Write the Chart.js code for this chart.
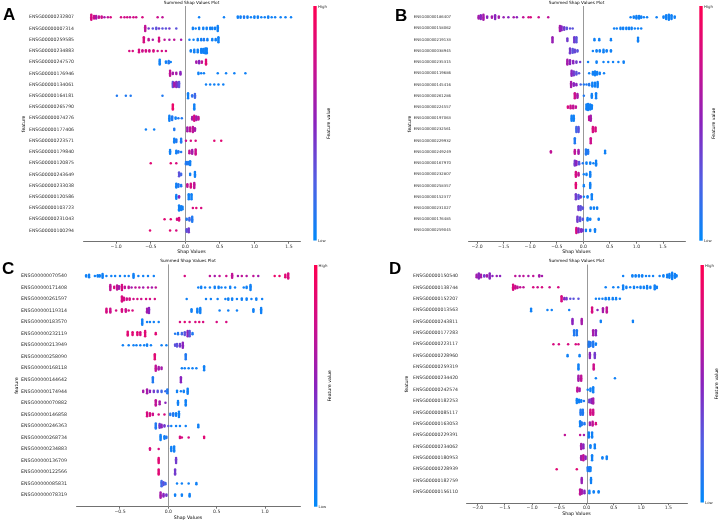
<!DOCTYPE html>
<html><head><meta charset="utf-8">
<script src="https://cdn.jsdelivr.net/npm/chart.js@4.4.1/dist/chart.umd.min.js"></script>
<style>
html,body{margin:0;padding:0;background:#fff;}
#wrap{position:relative;width:720px;height:522px;overflow:hidden;background:#fff;}
canvas{position:absolute;}
.lt{position:absolute;font:bold 17px "Liberation Sans",Arial,sans-serif;line-height:17px;color:#000;}
</style></head><body>
<div id="wrap">
<canvas id="cA" width="360" height="261" style="left:0;top:0"></canvas>
<canvas id="cB" width="360" height="261" style="left:360px;top:0"></canvas>
<canvas id="cC" width="360" height="264" style="left:0;top:258px"></canvas>
<canvas id="cD" width="360" height="264" style="left:360px;top:258px"></canvas>
<div class="lt" style="left:3px;top:6px">A</div>
<div class="lt" style="left:395px;top:7px">B</div>
<div class="lt" style="left:2px;top:260px">C</div>
<div class="lt" style="left:389px;top:260px">D</div>
</div>
<script>
const titleText = "Summed Shap Values Plot";
const xTitle = "Shap Values";
const yTitle = "feature";
const cbTitle = "Feature value";

// ---- Panel A ----
const genesA = ["ENSG00000232807","ENSG00000007314","ENSG00000259585","ENSG00000234883","ENSG00000247570","ENSG00000176946","ENSG00000134061","ENSG00000164181","ENSG00000265790","ENSG00000074276","ENSG00000177406","ENSG00000223571","ENSG00000179840","ENSG00000120875","ENSG00000243649","ENSG00000233038","ENSG00000120586","ENSG00000103723","ENSG00000231043","ENSG00000100294"];
const xTicksA = [-1.0,-0.5,0.0,0.5,1.0,1.5];
// each point: [shap value, feature value (0 low .. 1 high), stacked count]
const shapA = [
[[-1.36,.8,5],[-1.32,.75,3],[-1.29,.6,3],[-1.25,.7,2],[-1.21,.75,2],[-1.17,.6,1],[-1.12,.7,1],[-1.08,.8,1],[-0.93,.8,1],[-0.88,.75,1],[-0.84,.8,1],[-0.80,.7,1],[-0.75,.8,1],[-0.71,.75,1],[-0.62,.8,1],[-0.40,.75,1],[-0.33,.7,1],[0.20,.05,1],[0.56,.05,1],[0.76,.05,2],[0.80,.05,2],[0.85,.1,2],[0.90,.05,2],[0.95,.05,1],[1.00,.05,2],[1.05,.05,2],[1.10,.05,1],[1.15,.05,1],[1.20,.05,2],[1.25,.05,1],[1.30,.05,1],[1.38,.05,1],[1.45,.05,1],[1.53,.05,1]],
[[-0.58,.7,5],[-0.53,.4,1],[-0.47,.3,1],[-0.42,.3,2],[-0.38,.4,1],[-0.33,.3,1],[-0.28,.3,1],[-0.23,.4,1],[-0.13,.3,1],[0.11,.05,2],[0.15,.05,1],[0.20,.05,2],[0.26,.05,2],[0.31,.05,2],[0.36,.05,2],[0.39,.05,2],[0.43,.05,2],[0.47,.05,5]],
[[-0.60,.8,5],[-0.53,.7,2],[-0.47,.6,1],[-0.38,.8,4],[-0.30,.7,1],[-0.23,.6,1],[-0.16,.7,1],[-0.06,.6,1],[0.06,.05,1],[0.12,.05,1],[0.18,.05,2],[0.23,.05,2],[0.27,.1,2],[0.32,.05,2],[0.39,.05,2],[0.44,.05,2],[0.48,.05,5]],
[[-0.81,.8,1],[-0.76,.8,1],[-0.67,.8,3],[-0.62,.75,2],[-0.57,.8,2],[-0.52,.75,2],[-0.46,.8,2],[-0.40,.75,1],[-0.34,.8,1],[-0.28,.75,1],[0.08,.05,2],[0.13,.05,3],[0.18,.05,3],[0.23,.05,4],[0.26,.05,4],[0.29,.05,5],[0.31,.05,5]],
[[-0.37,.05,5],[-0.28,.05,2],[-0.24,.1,3],[-0.21,.05,1],[0.16,.6,2],[0.20,.5,3],[0.24,.7,2],[0.30,.85,5]],
[[-0.22,.7,5],[-0.18,.6,2],[-0.13,.6,2],[-0.07,.5,3],[0.19,.05,2],[0.23,.05,1],[0.27,.05,1],[0.47,.05,1],[0.59,.05,1],[0.71,.05,1],[0.87,.05,1]],
[[-0.18,.3,5],[-0.16,.6,4],[-0.13,.5,5],[-0.11,.4,4],[-0.09,.3,5],[0.30,.05,1],[0.36,.05,1],[0.42,.05,1],[0.48,.05,1],[0.55,.05,1]],
[[-0.99,.1,1],[-0.86,.1,1],[-0.79,.1,1],[-0.33,.1,1],[0.04,.05,5],[0.10,.15,2],[0.14,.2,4]],
[[-0.18,.9,5],[0.13,.05,5]],
[[-0.23,.05,5],[-0.19,.1,4],[-0.14,.05,2],[-0.10,.1,1],[-0.05,.1,1],[0.10,.6,3],[0.13,.8,5],[0.16,.6,4],[0.19,.7,3]],
[[-0.57,.05,1],[-0.45,.05,1],[-0.16,.1,2],[0.03,.6,4],[0.07,.7,4],[0.11,.7,5],[0.14,.6,3]],
[[-0.16,.05,4],[-0.13,.1,3],[-0.06,.1,4],[0.01,.75,1],[0.08,.8,1],[0.15,.8,1],[0.42,.85,1],[0.52,.85,1]],
[[-0.22,.05,4],[-0.13,.05,3],[-0.10,.1,2],[-0.06,.1,1],[0.06,.7,3],[0.10,.6,4],[0.15,.75,5]],
[[-0.50,.85,1],[-0.21,.85,1],[-0.13,.8,1],[0.01,.1,3],[0.04,.1,3],[0.07,.05,4]],
[[-0.09,.3,4],[-0.06,.2,2],[0.07,.05,2],[0.14,.05,5]],
[[-0.13,.05,4],[-0.10,.1,3],[-0.06,.1,2],[0.03,.7,3],[0.08,.8,4],[0.13,.7,5]],
[[-0.13,.05,4],[-0.09,.5,2],[0.05,.05,5],[0.09,.05,5]],
[[-0.09,.05,5],[-0.06,.05,4],[-0.04,.05,3],[0.11,.8,1],[0.16,.85,1],[0.23,.8,1]],
[[-0.30,.85,1],[-0.21,.85,1],[-0.12,.8,2],[-0.09,.8,3],[0.02,.1,2],[0.06,.2,3],[0.10,.1,5]],
[[-0.51,.85,1],[-0.22,.85,1],[-0.13,.8,1],[0.02,.3,3],[0.05,.4,4]]
];

// ---- Panel B ----
const genesB = ["ENSG00000186407","ENSG00000158062","ENSG00000219133","ENSG00000038945","ENSG00000235315","ENSG00000119686","ENSG00000145416","ENSG00000261286","ENSG00000224557","ENSG00000197063","ENSG00000232561","ENSG00000229932","ENSG00000249249","ENSG00000167970","ENSG00000232807","ENSG00000258357","ENSG00000152377","ENSG00000231027","ENSG00000176485","ENSG00000259045"];
const xTicksB = [-2.0,-1.5,-1.0,-0.5,0.0,0.5,1.0,1.5];
const shapB = [
[[-1.97,.6,3],[-1.93,.5,4],[-1.88,.6,5],[-1.81,.5,2],[-1.72,.6,2],[-1.66,.5,4],[-1.59,.6,2],[-1.50,.55,1],[-1.41,.5,1],[-1.31,.6,1],[-1.25,.5,1],[-1.13,.7,1],[-1.03,.8,1],[-0.99,.8,1],[-0.84,.75,1],[-0.66,.7,1],[0.89,.05,1],[0.95,.05,2],[1.00,.05,3],[1.05,.05,3],[1.09,.05,2],[1.14,.05,1],[1.20,.05,1],[1.38,.05,1],[1.51,.05,2],[1.56,.05,4],[1.61,.05,5],[1.66,.05,4],[1.72,.05,2]],
[[-0.44,.6,5],[-0.41,.5,4],[-0.36,.4,3],[-0.31,.3,2],[-0.25,.3,1],[-0.20,.3,1],[0.58,.05,1],[0.63,.05,1],[0.70,.05,2],[0.75,.05,2],[0.81,.05,2],[0.86,.05,2],[0.91,.05,2],[0.97,.05,1],[1.03,.05,1],[1.09,.05,1]],
[[-0.58,.55,5],[-0.30,.4,3],[-0.17,.4,5],[-0.13,.3,5],[0.21,.05,2],[0.30,.05,2],[0.52,.05,2],[1.03,.05,4]],
[[-0.25,.4,5],[-0.20,.3,4],[-0.16,.35,3],[-0.11,.3,2],[0.18,.05,1],[0.25,.05,2],[0.31,.05,2],[0.38,.05,3],[0.44,.05,2],[0.52,.05,2]],
[[-0.30,.6,5],[-0.25,.5,4],[-0.19,.5,3],[-0.13,.4,2],[-0.06,.4,1],[0.09,.05,1],[0.25,.05,2],[0.38,.05,1],[0.47,.05,1],[0.56,.05,1],[0.66,.05,1],[0.76,.05,2]],
[[-0.22,.5,5],[-0.18,.4,4],[-0.13,.3,3],[-0.08,.3,1],[0.11,.05,1],[0.18,.05,3],[0.22,.05,4],[0.26,.05,3],[0.31,.05,2],[0.39,.05,1]],
[[-0.23,.6,5],[-0.18,.5,3],[-0.13,.5,2],[-0.05,.2,1],[0.01,.1,1],[0.06,.1,1],[0.11,.1,2],[0.17,.05,4],[0.22,.05,4],[0.27,.05,5]],
[[-0.16,.75,5],[-0.11,.6,4],[0.01,.1,1],[0.16,.05,4],[0.24,.05,5]],
[[-0.29,.8,2],[-0.24,.75,3],[-0.19,.7,3],[-0.14,.7,2],[0.06,.05,5],[0.09,.05,6],[0.13,.05,5],[0.16,.05,4]],
[[-0.22,.05,5],[-0.18,.05,5],[0.11,.7,4],[0.14,.6,5]],
[[-0.13,.2,5],[-0.09,.3,5],[0.18,.8,5],[0.23,.8,4]],
[[-0.16,.1,5],[0.14,.75,5]],
[[-0.61,.7,2],[-0.16,.7,4],[-0.09,.6,4],[0.05,.1,5],[0.09,.1,4],[0.41,.05,3]],
[[-0.16,.4,5],[-0.13,.5,4],[-0.08,.3,3],[-0.01,.1,1],[0.06,.05,2],[0.13,.05,2],[0.19,.05,1],[0.24,.05,5]],
[[-0.14,.8,5],[-0.09,.7,3],[0.01,.05,1],[0.06,.05,2],[0.13,.05,5]],
[[-0.14,.85,5],[0.01,.05,2],[0.13,.05,5]],
[[-0.14,.4,5],[-0.09,.3,4],[-0.05,.4,2],[0.01,.05,1],[0.08,.05,2],[0.16,.05,5]],
[[-0.09,.4,4],[-0.05,.3,4],[-0.01,.3,2],[0.14,.05,2],[0.20,.05,2],[0.26,.05,2]],
[[-0.11,.4,5],[-0.06,.3,4],[-0.01,.3,2],[0.08,.05,3],[0.13,.05,2],[0.29,.05,2]],
[[-0.13,.8,5],[-0.09,.5,4],[-0.04,.5,3],[-0.01,.4,2],[0.05,.05,2],[0.13,.05,2],[0.22,.05,3]]
];

// ---- Panel C ----
const genesC = ["ENSG00000070540","ENSG00000171408","ENSG00000261597","ENSG00000119314","ENSG00000183570","ENSG00000232119","ENSG00000213949","ENSG00000258090","ENSG00000168118","ENSG00000144642","ENSG00000174944","ENSG00000070882","ENSG00000146858","ENSG00000246363","ENSG00000268734","ENSG00000234883","ENSG00000136709","ENSG00000122566","ENSG00000085831","ENSG00000078319"];
const xTicksC = [-0.5,0.0,0.5,1.0];
const shapC = [
[[-0.85,.05,2],[-0.82,.05,3],[-0.76,.05,1],[-0.73,.05,2],[-0.71,.05,2],[-0.68,.05,4],[-0.64,.05,1],[-0.59,.05,1],[-0.55,.05,1],[-0.50,.05,1],[-0.45,.05,1],[-0.41,.05,1],[-0.36,.05,4],[-0.31,.05,1],[-0.26,.05,1],[-0.21,.05,1],[-0.15,.05,1],[0.17,.8,1],[0.43,.7,1],[0.48,.6,1],[0.53,.7,1],[0.60,.75,1],[0.66,.7,4],[0.72,.6,1],[0.76,.7,1],[0.81,.65,1],[0.88,.7,1],[0.93,.6,1],[1.10,.9,1],[1.15,.9,1],[1.21,.85,3],[1.24,.8,5]],
[[-0.60,.7,5],[-0.56,.8,2],[-0.53,.7,4],[-0.51,.6,3],[-0.48,.8,5],[-0.45,.7,2],[-0.41,.7,2],[-0.38,.6,1],[-0.34,.7,1],[-0.30,.7,1],[-0.26,.6,1],[-0.21,.7,1],[-0.17,.6,1],[-0.13,.7,1],[0.31,.05,1],[0.34,.05,2],[0.38,.05,1],[0.43,.05,1],[0.48,.05,2],[0.52,.05,2],[0.55,.05,1],[0.59,.05,1],[0.64,.05,2],[0.69,.05,1],[0.78,.05,1],[0.81,.05,2],[0.85,.05,5]],
[[-0.48,.8,5],[-0.46,.8,3],[-0.43,.75,2],[-0.40,.8,2],[-0.36,.75,1],[-0.32,.8,1],[-0.28,.75,1],[-0.23,.8,1],[-0.19,.75,1],[-0.14,.8,1],[0.19,.05,1],[0.39,.05,1],[0.44,.05,1],[0.51,.05,1],[0.59,.05,1],[0.62,.05,2],[0.66,.05,2],[0.71,.05,1],[0.76,.05,2],[0.81,.05,2],[0.86,.05,1],[0.91,.05,2],[0.97,.05,1]],
[[-0.64,.8,4],[-0.60,.75,4],[-0.54,.8,1],[-0.48,.8,3],[-0.44,.75,3],[-0.41,.8,1],[-0.37,.8,1],[-0.22,.6,4],[-0.20,.5,5],[0.24,.05,3],[0.30,.05,4],[0.33,.05,5],[0.53,.05,1],[0.62,.05,1],[0.71,.05,1],[0.88,.05,3],[0.96,.05,5]],
[[-0.27,.05,5],[-0.22,.05,1],[-0.19,.05,1],[-0.15,.05,1],[-0.10,.05,1],[0.12,.8,1],[0.17,.85,1],[0.22,.8,1],[0.28,.8,1],[0.32,.85,1],[0.36,.8,1],[0.50,.8,1],[0.60,.8,1]],
[[-0.42,.85,4],[-0.37,.85,3],[-0.32,.85,3],[-0.29,.8,3],[-0.24,.85,5],[-0.13,.85,2],[0.07,.1,1],[0.10,.1,2],[0.14,.2,2],[0.17,.3,3],[0.20,.5,5],[0.22,.3,5],[0.25,.1,2]],
[[-0.47,.05,1],[-0.41,.05,1],[-0.36,.05,1],[-0.33,.05,1],[-0.29,.05,1],[-0.25,.05,1],[-0.22,.05,2],[-0.18,.05,1],[-0.07,.05,1],[-0.02,.05,1],[0.07,.3,2],[0.09,.3,3],[0.12,.4,3],[0.15,.5,5]],
[[-0.14,.85,5],[0.18,.1,5]],
[[-0.13,.7,5],[-0.10,.6,3],[-0.07,.6,2],[0.14,.05,1],[0.17,.05,1],[0.21,.05,1],[0.25,.05,1],[0.29,.05,1],[0.37,.05,4]],
[[-0.16,.1,5],[0.13,.5,5]],
[[-0.26,.6,2],[-0.22,.6,4],[-0.19,.5,2],[-0.15,.4,2],[-0.11,.3,2],[-0.07,.2,2],[-0.03,.2,1],[-0.01,.1,4],[0.09,.05,2],[0.13,.05,1],[0.16,.05,2],[0.20,.05,5]],
[[-0.13,.7,5],[-0.09,.6,3],[-0.03,.5,1],[0.10,.05,4],[0.18,.05,5]],
[[-0.22,.8,4],[-0.19,.8,3],[-0.16,.75,2],[-0.10,.8,1],[-0.04,.8,1],[0.02,.1,2],[0.05,.1,3],[0.08,.05,3],[0.11,.05,5]],
[[-0.13,.1,5],[-0.09,.4,4],[-0.07,.5,3],[-0.04,.4,2],[0.00,.3,1],[0.03,.05,1],[0.08,.05,1],[0.12,.05,1],[0.18,.05,1],[0.31,.05,3]],
[[-0.08,.05,5],[-0.04,.05,3],[-0.02,.1,2],[0.12,.8,2],[0.14,.8,1],[0.21,.8,1],[0.37,.85,2]],
[[-0.19,.8,2],[-0.10,.8,1],[0.03,.05,4],[0.06,.05,5]],
[[-0.10,.85,5],[0.08,.4,5]],
[[-0.10,.85,5],[0.07,.4,5]],
[[-0.07,.2,5],[-0.05,.3,3],[-0.03,.2,2],[0.09,.05,1],[0.14,.05,1],[0.21,.05,1],[0.29,.05,2]],
[[-0.08,.6,5],[-0.05,.5,3],[-0.02,.4,2],[0.07,.05,2],[0.14,.05,2],[0.22,.05,3]]
];

// ---- Panel D ----
const genesD = ["ENSG00000150540","ENSG00000138744","ENSG00000152207","ENSG00000013563","ENSG00000243811","ENSG00000177283","ENSG00000223117","ENSG00000228960","ENSG00000259319","ENSG00000234420","ENSG00000242574","ENSG00000182253","ENSG00000085117","ENSG00000163053","ENSG00000229391","ENSG00000234062","ENSG00000180953","ENSG00000228939","ENSG00000182759","ENSG00000156110"];
const xTicksD = [-2.0,-1.5,-1.0,-0.5,0.0,0.5,1.0,1.5];
const shapD = [
[[-2.02,.6,3],[-1.98,.5,5],[-1.94,.6,3],[-1.88,.4,2],[-1.83,.6,2],[-1.78,.5,5],[-1.73,.5,1],[-1.65,.55,1],[-1.59,.5,1],[-1.31,.7,1],[-1.23,.6,1],[-1.16,.7,1],[-1.07,.6,1],[-0.98,.7,1],[-0.87,.6,2],[-0.82,.6,1],[0.67,.05,1],[0.84,.05,2],[0.90,.05,2],[0.96,.05,2],[1.02,.05,2],[1.09,.05,1],[1.15,.05,1],[1.22,.05,1],[1.34,.05,1],[1.41,.05,2],[1.48,.05,3],[1.52,.05,4],[1.57,.05,6],[1.62,.05,4],[1.65,.05,2]],
[[-1.35,.8,5],[-1.31,.75,3],[-1.27,.7,2],[-1.22,.7,1],[-1.16,.7,1],[-0.98,.8,1],[-0.90,.75,1],[-0.82,.8,1],[-0.68,.75,1],[-0.52,.8,1],[0.35,.05,1],[0.49,.05,1],[0.58,.05,1],[0.67,.05,4],[0.73,.05,2],[0.80,.05,1],[0.87,.05,2],[0.93,.05,1],[0.99,.05,2],[1.05,.05,2],[1.11,.05,3],[1.17,.05,2],[1.25,.05,4],[1.29,.05,2]],
[[-0.46,.8,5],[-0.41,.5,2],[-0.37,.4,2],[-0.30,.3,1],[-0.24,.3,1],[-0.15,.3,1],[0.17,.05,1],[0.23,.05,1],[0.29,.05,1],[0.35,.05,2],[0.41,.05,2],[0.48,.05,2],[0.54,.05,2],[0.61,.05,1]],
[[-1.02,.05,3],[-0.72,.05,1],[-0.64,.05,1],[-0.32,.05,1],[0.10,.8,5],[0.20,.5,1],[0.30,.6,4],[0.37,.7,5]],
[[-0.26,.5,5],[-0.09,.6,5],[0.26,.05,2],[0.85,.05,2]],
[[-0.23,.1,5],[-0.18,.1,5],[0.12,.6,5],[0.17,.5,5]],
[[-0.61,.8,1],[-0.51,.8,1],[-0.34,.8,1],[-0.20,.8,1],[-0.15,.8,1],[0.04,.1,5],[0.07,.1,4],[0.12,.1,5],[0.17,.05,2]],
[[-0.35,.05,2],[-0.13,.05,2],[0.06,.5,5],[0.15,.4,5]],
[[-0.15,.05,5],[0.13,.75,5]],
[[-0.15,.6,5],[-0.10,.7,5],[0.17,.05,1],[0.52,.05,1]],
[[-0.17,.7,4],[-0.13,.6,3],[0.02,.05,1],[0.07,.05,3],[0.12,.05,5]],
[[-0.18,.05,4],[-0.14,.05,3],[-0.10,.05,2],[-0.05,.1,1],[0.05,.4,3],[0.09,.5,4],[0.12,.6,5]],
[[-0.11,.1,5],[-0.07,.1,5],[0.07,.8,5],[0.12,.75,5]],
[[-0.12,.05,5],[-0.09,.1,3],[-0.04,.1,2],[0.06,.6,3],[0.11,.7,4],[0.17,.8,2]],
[[-0.40,.7,1],[-0.12,.7,1],[-0.05,.6,1],[0.04,.05,5],[0.10,.05,5]],
[[-0.10,.6,5],[-0.06,.5,4],[0.07,.05,3],[0.15,.05,4]],
[[-0.10,.6,4],[-0.06,.7,5],[-0.02,.5,3],[0.10,.05,5],[0.29,.05,2],[0.37,.05,3]],
[[-0.55,.85,1],[-0.18,.85,1],[0.02,.1,4],[0.05,.1,4],[0.07,.05,4]],
[[-0.09,.55,5],[0.08,.05,5]],
[[-0.12,.7,5],[-0.09,.6,4],[-0.04,.5,3],[0.05,.05,3],[0.13,.05,2],[0.22,.05,2]]
];

// ---- layout (canvas-local pixels) ----
const FF = "'DejaVu Sans', sans-serif";
const layA = {w:360,h:261,left:83,right:300,top:6,bottom:241.7,xMin:-1.48,xMax:1.66,titleCY:2.8,xTitlePB:6.9,labelGap:9,labelFont:4.6,yTitleX:24,cbX:313.3,cbTop:6,cbBottom:240.5,cbLabelX:329};
const layB = {w:360,h:261,left:108,right:325,top:6,bottom:241.7,xMin:-2.17,xMax:1.914,titleCY:2.8,xTitlePB:6.9,labelGap:17,labelFont:3.8,yTitleX:50,cbX:339.3,cbTop:6,cbBottom:240.7,cbLabelX:354};
const layC = {w:360,h:264,left:76,right:300,top:6.4,bottom:248.7,xMin:-0.955,xMax:1.362,titleCY:3,xTitlePB:2,labelGap:9,labelFont:4.7,yTitleX:17,cbX:314,cbTop:7,cbBottom:248.7,cbLabelX:330};
const layD = {w:360,h:264,left:106,right:327,top:6.6,bottom:245.3,xMin:-2.215,xMax:1.843,titleCY:3,xTitlePB:5.9,labelGap:8,labelFont:4.6,yTitleX:47,cbX:340.5,cbTop:7,cbBottom:244.5,cbLabelX:356.5};

const cstops = [[0,[0,138,250]],[0.25,[80,95,228]],[0.5,[138,35,190]],[0.75,[205,15,140]],[1,[255,0,81]]];
function cmap(f){
  for(let i=1;i<cstops.length;i++){
    const [p1,c1]=cstops[i], [p0,c0]=cstops[i-1];
    if(f<=p1){const t=(f-p0)/(p1-p0);return 'rgb('+c0.map((c,j)=>Math.round(c+(c1[j]-c)*t)).join(',')+')';}
  }
  return 'rgb(255,0,81)';
}
function fmt(v){return (v<0?'\u2212':'')+Math.abs(v).toFixed(1);}
function points(rows){
  const out=[];
  rows.forEach((row,i)=>row.forEach(([v,f,n])=>{
    for(let k=0;k<n;k++) out.push({x:v,y:i+(k-(n-1)/2)*0.11,f:f});
  }));
  return out;
}
function decor(L){
  return {
    id:'decor',
    beforeDatasetsDraw(chart){
      const {ctx,chartArea:a,scales:{x}}=chart;
      const px=Math.round(x.getPixelForValue(0))+0.5;
      ctx.save();ctx.strokeStyle='#999999';ctx.lineWidth=1;
      ctx.beginPath();ctx.moveTo(px,a.top);ctx.lineTo(px,a.bottom);ctx.stroke();ctx.restore();
    },
    afterDraw(chart){
      const ctx=chart.ctx;
      ctx.save();
      const g=ctx.createLinearGradient(0,L.cbBottom,0,L.cbTop);
      cstops.forEach(([p,c])=>g.addColorStop(p,'rgb('+c.join(',')+')'));
      ctx.fillStyle=g;ctx.fillRect(L.cbX,L.cbTop,3.4,L.cbBottom-L.cbTop);
      ctx.fillStyle='#333';ctx.font='3.9px '+FF;ctx.textAlign='left';ctx.textBaseline='middle';
      ctx.fillText('High',L.cbX+4.6,L.cbTop+0.5);
      ctx.fillText('Low',L.cbX+4.6,L.cbBottom+0.5);
      ctx.font='4.6px '+FF;ctx.textAlign='center';
      ctx.translate(L.cbLabelX,(L.cbTop+L.cbBottom)/2);ctx.rotate(-Math.PI/2);
      ctx.fillStyle='#000';ctx.fillText(cbTitle,0,0);
      ctx.restore();
    }
  };
}
function makeChart(id,genes,rows,ticks,L){
  const pts=points(rows);
  const tfs=4.25, pt=L.titleCY-tfs/2, pb=L.top-pt-tfs;
  new Chart(document.getElementById(id),{
    type:'scatter',
    data:{datasets:[{data:pts,backgroundColor:pts.map(p=>cmap(p.f)),borderWidth:0,pointRadius:1.25,pointHoverRadius:1.25}]},
    options:{
      responsive:false,animation:false,devicePixelRatio:1,events:[],
      layout:{padding:{left:0,top:0,bottom:0,right:L.w-L.right}},
      plugins:{legend:{display:false},tooltip:{enabled:false},
        title:{display:true,text:titleText,fullSize:false,color:'#000',font:{family:FF,size:tfs,lineHeight:1,weight:'normal'},padding:{top:pt,bottom:pb}}},
      scales:{
        x:{type:'linear',position:'bottom',min:L.xMin,max:L.xMax,
          afterBuildTicks:s=>{s.ticks=ticks.map(v=>({value:v}));},
          afterFit:s=>{s.height=L.h-L.bottom;s.paddingLeft=0;s.paddingRight=0;},
          grid:{display:true,drawOnChartArea:false,drawTicks:true,tickLength:2,color:'#333333',lineWidth:0.7},
          border:{display:true,color:'#333333',width:0.7},
          ticks:{font:{family:FF,size:4.6,lineHeight:1},color:'#333333',padding:0.4,maxRotation:0,autoSkip:false,callback:v=>fmt(v)},
          title:{display:true,text:xTitle,color:'#000',font:{family:FF,size:4.7,lineHeight:1},padding:{top:0,bottom:L.xTitlePB}}},
        y:{type:'linear',position:'left',min:-1,max:20,reverse:true,
          afterBuildTicks:s=>{s.ticks=genes.map((g,i)=>({value:i}));},
          afterFit:s=>{s.width=L.left;s.paddingTop=0;s.paddingBottom=0;},
          grid:{display:false,drawTicks:false},border:{display:false},
          ticks:{font:{family:FF,size:L.labelFont,lineHeight:1},color:'#333333',padding:L.labelGap,autoSkip:false,callback:v=>genes[v]},
          title:{display:true,text:yTitle,color:'#000',font:{family:FF,size:4.6,lineHeight:1},padding:{top:L.yTitleX-2.3,bottom:0}}}
      }
    },
    plugins:[decor(L)]
  });
}
makeChart('cA',genesA,shapA,xTicksA,layA);
makeChart('cB',genesB,shapB,xTicksB,layB);
makeChart('cC',genesC,shapC,xTicksC,layC);
makeChart('cD',genesD,shapD,xTicksD,layD);
</script>
</body></html>
